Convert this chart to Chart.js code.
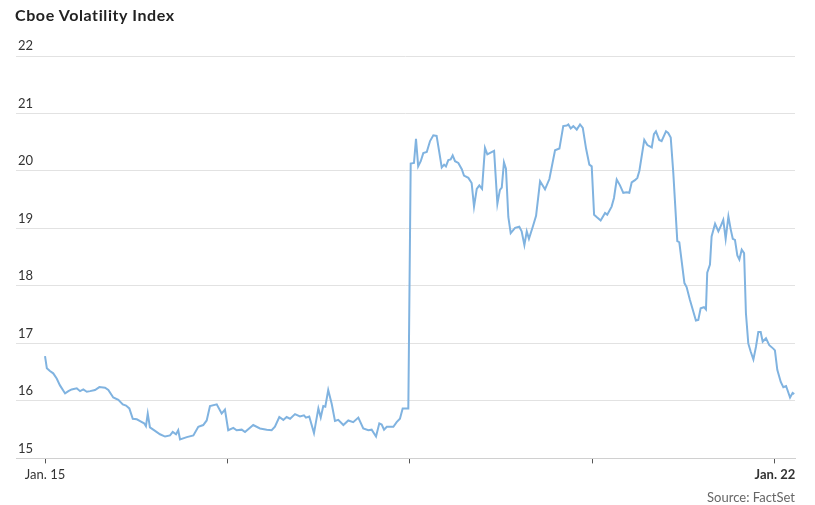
<!DOCTYPE html>
<html>
<head>
<meta charset="utf-8">
<title>Cboe Volatility Index</title>
<script src="https://cdn.jsdelivr.net/npm/chart.js@4.4.1/dist/chart.umd.min.js"></script>
<style>
  html, body { margin: 0; padding: 0; background: #fff; }
  .wrap { position: relative; width: 815px; height: 505px; font-family: Lato, sans-serif; }
  .title { position: absolute; left: 15px; top: 6px; font-size: 16px; line-height: 18px; letter-spacing: 0.6px; font-weight: 700; color: #222; }
  .source { position: absolute; right: 20px; top: 489px; font-size: 13px; line-height: 16px; color: #666; }
  .chart-box { position: absolute; left: 0; top: 0; width: 815px; height: 505px; }
</style>
</head>
<body>
<div class="wrap">
  <div class="chart-box"><canvas id="vix-chart"></canvas></div>
  <div class="title">Cboe Volatility Index</div>
  <div class="source">Source: FactSet</div>
</div>
<script>
// x = position in the week, each trading session = 100 units
// y = index level
const jan15 = [
  [0, 16.78], [1, 16.57], [2.7, 16.52], [4.5, 16.48], [6.4, 16.39], [8.2, 16.27], [11.0, 16.13], [12.8, 16.17],
  [14.6, 16.20], [17.4, 16.22], [19.2, 16.17], [21.0, 16.20], [22.9, 16.16], [24.7, 16.17], [27.4, 16.19],
  [29.8, 16.24], [32.9, 16.23], [34.7, 16.19], [37.4, 16.06], [40.2, 16.02], [42.6, 15.94], [44.4, 15.92],
  [46.2, 15.87], [48.1, 15.69], [50.3, 15.68], [52.1, 15.65], [54.3, 15.61], [55.3, 15.56], [56.3, 15.78],
  [57.5, 15.54], [60.3, 15.48], [63.0, 15.42], [65.8, 15.38], [68.5, 15.40], [70.0, 15.46], [71.8, 15.42],
  [73.0, 15.49], [74.0, 15.33], [77.7, 15.37], [81.3, 15.40], [84.0, 15.55], [86.7, 15.58], [88.6, 15.66],
  [90.4, 15.91], [94.1, 15.94], [96.8, 15.78], [98.6, 15.85], [100.4, 15.49]
];
const jan19 = [
  [103.2, 15.53], [105.0, 15.49], [107.8, 15.50], [109.6, 15.46], [114.1, 15.58], [117.8, 15.52], [121.5, 15.50],
  [124.2, 15.49], [126.0, 15.55], [128.4, 15.72], [130.6, 15.67], [132.4, 15.72], [134.3, 15.69], [137.0, 15.77],
  [139.7, 15.73], [141.9, 15.75], [143.0, 15.71], [144.8, 15.73], [147.4, 15.44], [149.8, 15.87], [151.1, 15.71],
  [152.5, 15.91], [153.6, 15.90], [155.2, 16.19], [157.1, 15.95], [158.9, 15.65], [160.7, 15.67], [163.5, 15.58],
  [166.2, 15.66], [168.9, 15.63], [171.7, 15.71], [174.4, 15.52], [177.2, 15.49], [179.0, 15.50], [181.4, 15.38],
  [183.2, 15.61], [184.5, 15.59], [185.8, 15.50], [187.3, 15.55], [190.9, 15.55], [192.7, 15.63], [194.5, 15.69],
  [196.0, 15.87], [199.1, 15.87]
];
const jan20 = [
  [200.4, 20.13], [202.2, 20.14], [203.3, 20.56], [204.5, 20.08], [205.9, 20.17], [207.3, 20.31], [209.2, 20.33],
  [211.0, 20.52], [212.8, 20.62], [214.6, 20.61], [216.1, 20.32], [217.4, 20.06], [218.7, 20.11], [219.7, 20.08],
  [221.0, 20.19], [222.3, 20.20], [223.4, 20.27], [224.7, 20.17], [226.5, 20.14], [228.4, 20.03], [229.6, 19.92],
  [232.0, 19.88], [233.8, 19.79], [235.1, 19.38], [236.6, 19.69], [238.0, 19.75], [239.5, 19.69], [241.1, 20.40],
  [242.4, 20.29], [244.2, 20.32], [246.1, 20.35], [247.9, 19.43], [249.3, 19.67], [250.3, 19.71], [251.5, 20.15],
  [252.6, 20.04], [253.9, 19.20], [255.2, 18.92], [257.6, 19.01], [259.9, 19.03], [261.2, 18.95], [262.7, 18.71],
  [264.0, 18.95], [265.2, 18.82], [267.3, 19.03], [269.1, 19.22], [271.3, 19.82], [274.0, 19.68], [276.4, 19.86],
  [279.5, 20.36], [281.9, 20.39], [284.0, 20.78], [285.9, 20.79], [286.8, 20.81], [288.1, 20.74], [289.5, 20.78],
  [291.4, 20.72], [293.2, 20.81], [294.7, 20.75], [296.5, 20.39], [298.3, 20.11], [299.6, 20.08]
];
const jan21 = [
  [300.9, 19.24], [302.3, 19.20], [304.5, 19.14], [306.9, 19.27], [308.1, 19.24], [310.5, 19.38], [311.8, 19.53],
  [313.3, 19.85], [315.1, 19.75], [316.9, 19.62], [318.8, 19.63], [320.2, 19.62], [321.5, 19.80], [323.3, 19.84],
  [324.6, 19.88], [325.7, 20.00], [327.0, 20.26], [328.4, 20.54], [330.1, 20.45], [332.5, 20.41], [333.7, 20.64],
  [334.8, 20.69], [336.6, 20.54], [337.9, 20.52], [340.3, 20.69], [341.5, 20.66], [342.9, 20.58], [344.3, 19.97],
  [346.5, 18.78], [347.6, 18.76], [350.4, 18.05], [351.6, 17.98], [353.4, 17.76], [355.3, 17.55], [356.7, 17.40],
  [358.0, 17.41], [359.3, 17.61], [361.1, 17.63], [362.2, 17.59], [362.9, 18.23], [364.4, 18.37], [365.3, 18.86],
  [367.2, 19.08], [369.0, 18.95], [370.3, 19.04], [371.7, 19.15], [373.0, 18.82], [374.5, 19.21], [375.8, 18.98],
  [376.9, 18.82], [378.1, 18.80], [379.4, 18.53], [380.5, 18.46], [381.8, 18.63], [383.1, 18.57], [384.1, 17.53],
  [385.4, 17.00], [386.7, 16.86], [388.2, 16.72], [389.6, 16.94], [390.9, 17.20], [392.2, 17.20], [393.3, 17.03],
  [395.1, 17.09], [396.9, 16.97], [399.1, 16.91]
];
const jan22 = [
  [400.0, 16.88], [401.3, 16.54], [403.2, 16.33], [404.6, 16.24], [406.1, 16.26], [408.3, 16.06], [409.7, 16.14],
  [410.6, 16.12]
];

const dayTicks = [0, 100, 200, 300, 400];
const dayLabels = ['Jan. 15', '', '', '', 'Jan. 22'];
const levelTicks = [15, 16, 17, 18, 19, 20, 21, 22];

const points = [...jan15, ...jan19, ...jan20, ...jan21, ...jan22].map(([x, y]) => ({ x, y }));

const ctx = document.getElementById('vix-chart').getContext('2d');

new Chart(ctx, {
  type: 'line',
  data: {
    datasets: [{
      data: points,
      borderColor: '#80b3e0',
      borderWidth: 2,
      pointRadius: 0,
      tension: 0,
      fill: false
    }]
  },
  options: {
    responsive: true,
    maintainAspectRatio: false,
    animation: false,
    layout: {
      padding: { top: 56, left: 12, right: 20, bottom: 18 }
    },
    plugins: {
      legend: { display: false },
      tooltip: { enabled: false }
    },
    scales: {
      x: {
        type: 'linear',
        min: -15.9,
        max: 411,
        afterBuildTicks: (axis) => {
          axis.ticks = dayTicks.map(v => ({ value: v }));
        },
        grid: {
          drawOnChartArea: false,
          drawTicks: true,
          tickLength: 5,
          tickColor: '#555',
          tickWidth: 1
        },
        border: { display: true, color: '#d0d0d0', width: 1 },
        ticks: {
          autoSkip: false,
          maxRotation: 0,
          padding: 4,
          color: '#333',
          font: (c) => ({
            family: 'Lato',
            size: 13,
            weight: c.tick && c.tick.value === 400 ? 'bold' : 'normal'
          }),
          callback: (value, index) => dayLabels[index]
        }
      },
      y: {
        min: 15,
        max: 22,
        afterBuildTicks: (axis) => {
          axis.ticks = levelTicks.map(v => ({ value: v }));
        },
        grid: { color: '#e2e2e2', drawTicks: false },
        border: { display: false },
        ticks: {
          mirror: true,
          padding: 2,
          labelOffset: -10,
          color: '#333',
          font: { family: 'Lato', size: 13 }
        }
      }
    }
  }
});
</script>
</body>
</html>
